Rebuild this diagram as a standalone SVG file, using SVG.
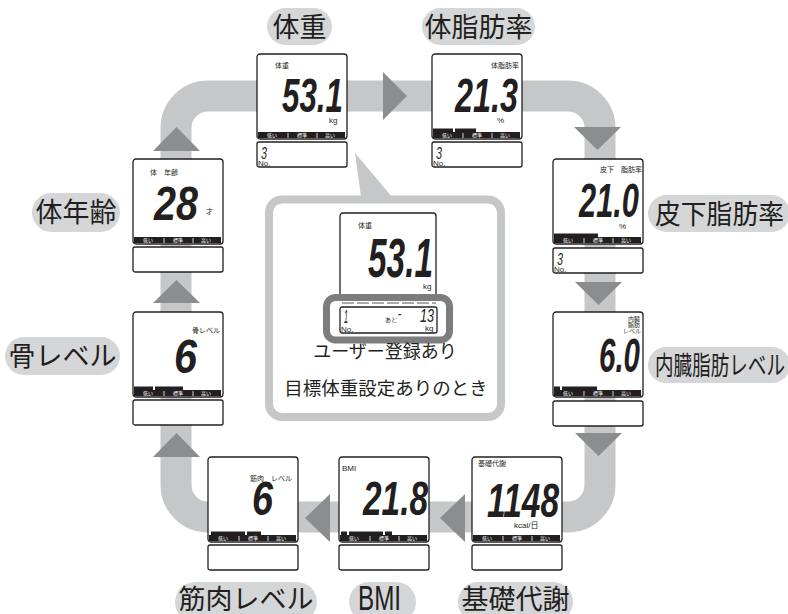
<svg xmlns="http://www.w3.org/2000/svg" width="788" height="614" viewBox="0 0 788 614">
<style>
.frame{fill:#fff;stroke:#231f20;stroke-width:1.3}
.bar{fill:#231f20}
.sep{stroke:#fff;stroke-width:0.8}
.bt{fill:#fff;font-family:"Noto Sans CJK JP",sans-serif;font-size:5px;text-anchor:middle}
.sm{fill:#231f20;font-family:"Noto Sans CJK JP",sans-serif;font-size:7px}
.unit{fill:#231f20;font-family:"Liberation Sans","Noto Sans CJK JP",sans-serif;font-size:8px}
.dig{fill:#231f20;font-family:"Liberation Sans",sans-serif;font-weight:bold;font-style:italic;font-size:49px}
.nod{fill:#231f20;font-family:"Liberation Sans",sans-serif;font-style:italic;font-size:16px}
.pill{fill:#d5d6d7}
.pt{fill:#231f20;font-family:"Noto Sans CJK JP",sans-serif;font-size:27px;text-anchor:middle}
.band{fill:none;stroke:#c6c7c9;stroke-width:31}
.arr{fill:#8c8d8e}
</style>
<defs>
<g id="barbase">
<rect class="bar" x="1" y="78" width="87" height="6"/>
<line class="sep" x1="31" y1="79" x2="31" y2="84"/>
<line class="sep" x1="60" y1="79" x2="60" y2="84"/>
<text class="bt" x="15" y="83.3">低い</text>
<text class="bt" x="45" y="83.3">標準</text>
<text class="bt" x="73" y="83.3">高い</text>
</g>
</defs>

<g id="connectors">
<path class="band" d="M208,96 H568 A32,32 0 0 1 600,128 V485 A32,32 0 0 1 568,517 H208 A32,32 0 0 1 176,485 V128 A32,32 0 0 1 208,96 Z"/>
<polygon class="arr" points="383,72 407,96 383,120"/>
<polygon class="arr" points="574,127 621,127 597.5,150"/>
<polygon class="arr" points="575,282 622,282 598.5,305"/>
<polygon class="arr" points="575,433 622,433 598.5,456"/>
<polygon class="arr" points="465,494 465,542 440,518"/>
<polygon class="arr" points="330,494 330,542 305,518"/>
<polygon class="arr" points="153,457 200,457 176.5,433"/>
<polygon class="arr" points="153,303 200,303 176.5,280"/>
<polygon class="arr" points="153,151 200,151 176.5,127"/>
</g>

<g id="panel">
<polygon points="355,153 362,204 398,204" fill="#c6c7c9"/>
<rect x="269" y="199.5" width="232" height="217.5" rx="13" fill="#fff" stroke="#c6c7c9" stroke-width="8"/>
<g id="panel-display" transform="translate(340,213)">
<rect class="frame" x="0" y="0" width="96" height="84" rx="3"/>
<text class="sm" x="18" y="15">体重</text>
<text class="dig" x="28" y="64" style="font-size:56px" textLength="65" lengthAdjust="spacingAndGlyphs">53.1</text>
<text class="unit" x="83" y="76">kg</text>
</g>
<line x1="342" y1="303" x2="436" y2="303" stroke="#555" stroke-width="1" stroke-dasharray="12,3"/>
<rect x="326.5" y="297.5" width="123" height="42.5" rx="9" fill="none" stroke="#7d7d7d" stroke-width="7"/>
<g id="panel-no" transform="translate(340,307)">
<rect class="frame" x="0" y="0" width="97" height="26" rx="2"/>
<text class="nod" x="4" y="16" style="font-size:19px" textLength="4" lengthAdjust="spacingAndGlyphs">1</text>
<text class="unit" x="1" y="25">No.</text>
<text class="sm" x="45" y="15" style="font-size:6px">あと</text>
<text class="nod" x="58" y="10" style="font-size:10px;font-weight:bold">-</text>
<text class="nod" x="80" y="15" style="font-size:19px" textLength="14" lengthAdjust="spacingAndGlyphs">13</text>
<text class="unit" x="85" y="24">kg</text>
</g>
<text x="385" y="358" fill="#231f20" font-family="Noto Sans CJK JP, sans-serif" font-size="18" text-anchor="middle">ユーザー登録あり</text>
<text x="386" y="395" fill="#231f20" font-family="Noto Sans CJK JP, sans-serif" font-size="18.5" text-anchor="middle">目標体重設定ありのとき</text>
</g>

<g id="disp-weight" transform="translate(257,54)">
<rect class="frame" width="90" height="85" rx="3"/>
<use href="#barbase"/>
<text class="sm" x="18" y="14">体重</text>
<text class="dig" x="25" y="58" textLength="61" lengthAdjust="spacingAndGlyphs">53.1</text>
<text class="unit" x="72" y="69">kg</text>
<rect class="frame" y="88" width="90" height="25" rx="2"/>
<text class="nod" x="4" y="105" textLength="6" lengthAdjust="spacingAndGlyphs">3</text>
<text class="unit" x="1" y="112">No.</text>
</g>

<g id="disp-bodyfat" transform="translate(432,54)">
<rect class="frame" width="90" height="85" rx="3"/>
<use href="#barbase"/>
<rect class="bar" x="1" y="74.5" width="20" height="4"/>
<rect class="bar" x="23" y="74.5" width="21" height="4"/>
<text class="sm" x="87" y="14" text-anchor="end">体脂肪率</text>
<text class="dig" x="23" y="58" textLength="63" lengthAdjust="spacingAndGlyphs">21.3</text>
<text class="unit" x="65" y="69">%</text>
<rect class="frame" y="88" width="90" height="25" rx="2"/>
<text class="nod" x="4" y="105" textLength="6" lengthAdjust="spacingAndGlyphs">3</text>
<text class="unit" x="1" y="112">No.</text>
</g>

<g id="disp-subfat" transform="translate(553,159)">
<rect class="frame" width="90" height="85" rx="3"/>
<use href="#barbase"/>
<rect class="bar" x="1" y="74.5" width="44" height="4"/>
<text class="sm" x="89" y="13" text-anchor="end">皮下　脂肪率</text>
<text class="dig" x="26" y="58" textLength="60" lengthAdjust="spacingAndGlyphs">21.0</text>
<text class="unit" x="66" y="70">%</text>
<rect class="frame" y="89" width="90" height="25" rx="2"/>
<text class="nod" x="4" y="106" textLength="6" lengthAdjust="spacingAndGlyphs">3</text>
<text class="unit" x="1" y="113">No.</text>
</g>

<g id="disp-visceral" transform="translate(553,312)">
<rect class="frame" width="90" height="85" rx="3"/>
<use href="#barbase"/>
<rect class="bar" x="1" y="74.5" width="6" height="4"/>
<rect class="bar" x="9" y="74.5" width="35" height="4"/>
<text class="sm" x="87" y="9" text-anchor="end" style="font-size:6px">内臓</text>
<text class="sm" x="87" y="15" text-anchor="end" style="font-size:6px">脂肪</text>
<text class="sm" x="88" y="21" text-anchor="end" style="font-size:6px">レベル</text>
<text class="dig" x="46" y="60" textLength="41" lengthAdjust="spacingAndGlyphs">6.0</text>
<rect class="frame" y="89" width="90" height="25" rx="2"/>
</g>

<g id="disp-bmr" transform="translate(472,457)">
<rect class="frame" width="90" height="85" rx="3"/>
<use href="#barbase"/>
<text class="sm" x="6" y="9">基礎代謝</text>
<text class="dig" x="15" y="60" textLength="72" lengthAdjust="spacingAndGlyphs">1148</text>
<text class="unit" x="42" y="71">kcal/日</text>
<rect class="frame" y="88" width="90" height="25" rx="2"/>
</g>

<g id="disp-bmi" transform="translate(339,457)">
<rect class="frame" width="90" height="85" rx="3"/>
<use href="#barbase"/>
<rect class="bar" x="2" y="74.5" width="6" height="4"/>
<rect class="bar" x="10" y="74.5" width="34" height="4"/>
<rect class="bar" x="46" y="74.5" width="7" height="4"/>
<text class="unit" x="3" y="14">BMI</text>
<text class="dig" x="24" y="58" textLength="65" lengthAdjust="spacingAndGlyphs">21.8</text>
<rect class="frame" y="88" width="90" height="25" rx="2"/>
</g>

<g id="disp-muscle" transform="translate(208,457)">
<rect class="frame" width="90" height="85" rx="3"/>
<use href="#barbase"/>
<rect class="bar" x="3" y="74.5" width="34" height="4"/>
<rect class="bar" x="39" y="74.5" width="14" height="4"/>
<text class="sm" x="42" y="24">筋肉　レベル</text>
<text class="dig" x="44" y="58" textLength="21" lengthAdjust="spacingAndGlyphs">6</text>
<rect class="frame" y="88" width="90" height="25" rx="2"/>
</g>

<g id="disp-bone" transform="translate(133,312)">
<rect class="frame" width="90" height="85" rx="3"/>
<use href="#barbase"/>
<rect class="bar" x="1" y="74.5" width="19" height="4"/>
<rect class="bar" x="22" y="74.5" width="28" height="4"/>
<text class="sm" x="59" y="21">骨レベル</text>
<text class="dig" x="41" y="61" textLength="23" lengthAdjust="spacingAndGlyphs">6</text>
<rect class="frame" y="88" width="90" height="25" rx="2"/>
</g>

<g id="disp-bodyage" transform="translate(133,159)">
<rect class="frame" width="90" height="85" rx="3"/>
<use href="#barbase"/>
<text class="sm" x="17" y="16">体　年齢</text>
<text class="dig" x="21" y="61" textLength="44" lengthAdjust="spacingAndGlyphs">28</text>
<text class="sm" x="73" y="55">才</text>
<rect class="frame" y="88" width="90" height="25" rx="2"/>
</g>

<g id="pill-weight"><rect class="pill" x="267" y="8" width="65" height="37" rx="18.5"/><text class="pt" x="299.5" y="36.5">体重</text></g>
<g id="pill-bodyfat"><rect class="pill" x="422" y="8" width="113" height="37" rx="18.5"/><text class="pt" x="478.5" y="36.5">体脂肪率</text></g>
<g id="pill-subfat"><rect class="pill" x="648" y="195" width="142" height="37" rx="18.5"/><text class="pt" x="655" y="223.5" style="text-anchor:start" textLength="129" lengthAdjust="spacingAndGlyphs">皮下脂肪率</text></g>
<g id="pill-visceral"><rect class="pill" x="648" y="347" width="142" height="36" rx="18"/><text class="pt" x="655" y="375" style="text-anchor:start;font-size:26px" textLength="130" lengthAdjust="spacingAndGlyphs">内臓脂肪レベル</text></g>
<g id="pill-bodyage"><rect class="pill" x="32" y="193" width="88" height="39" rx="19.5"/><text class="pt" x="76" y="222">体年齢</text></g>
<g id="pill-bone"><rect class="pill" x="5" y="337" width="115" height="38" rx="19"/><text class="pt" x="62.5" y="366">骨レベル</text></g>
<g id="pill-muscle"><rect class="pill" x="175" y="582" width="142" height="40" rx="20"/><text class="pt" x="246" y="609">筋肉レベル</text></g>
<g id="pill-bmi"><rect class="pill" x="349" y="582" width="67" height="40" rx="20"/><text class="pt" x="358" y="610" style="text-anchor:start;font-family:'Liberation Sans',sans-serif;font-size:35px" textLength="43" lengthAdjust="spacingAndGlyphs">BMI</text></g>
<g id="pill-bmr"><rect class="pill" x="458" y="582" width="115" height="40" rx="20"/><text class="pt" x="515.5" y="609">基礎代謝</text></g>
</svg>
